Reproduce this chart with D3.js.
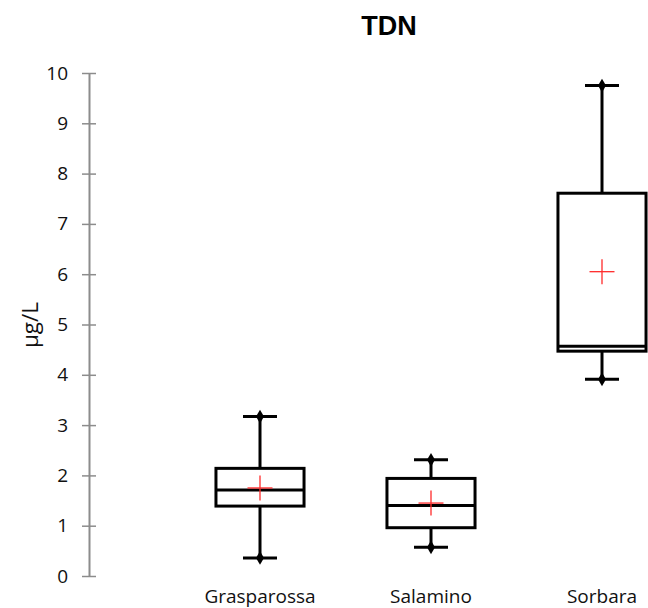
<!DOCTYPE html>
<html>
<head>
<meta charset="utf-8">
<script src="https://cdn.jsdelivr.net/npm/d3@7"></script>
<style>
  html, body { margin: 0; padding: 0; background: #fff; }
  svg { display: block; }
</style>
</head>
<body>
<svg id="chart" width="648" height="608"></svg>
<script>
const categories = ["Grasparossa", "Salamino", "Sorbara"];
const whiskerLow  = [0.36, 0.57, 3.91];
const q1          = [1.39, 0.96, 4.47];
const median      = [1.71, 1.40, 4.57];
const q3          = [2.14, 1.94, 7.61];
const whiskerHigh = [3.17, 2.31, 9.75];
const mean        = [1.75, 1.45, 6.05];
const yTicks      = [0, 1, 2, 3, 4, 5, 6, 7, 8, 9, 10];
const titleText   = "TDN";
const yTitle      = "μg/L";

const svg = d3.select("#chart");
const font = "'Open Sans', 'Noto Sans', sans-serif";

const y = d3.scaleLinear().domain([0, 10]).range([576, 73]);
const x = d3.scaleBand().domain(categories).range([174.5, 687.5]).paddingInner(0.485).paddingOuter(0.2425);

// Y axis
const yAxis = d3.axisLeft(y).tickValues(yTicks).tickSize(0).tickPadding(21).tickFormat(d3.format("d"));
const ya = svg.append("g").attr("transform", "translate(89,0)").call(yAxis);
ya.select(".domain").attr("stroke", "#8c8c8c").attr("stroke-width", 2);
ya.selectAll(".tick text").attr("font-family", font).attr("font-size", 19).attr("fill", "#111");
ya.selectAll(".tick").append("line").attr("x1", -7).attr("x2", 7).attr("stroke", "#8c8c8c").attr("stroke-width", 1.5);

// Title
svg.append("text").attr("x", 389).attr("y", 35).attr("text-anchor", "middle")
  .attr("font-family", "'Liberation Sans', Arial, sans-serif").attr("font-weight", "bold").attr("font-size", 27)
  .attr("fill", "#000").text(titleText);

// Y title
svg.append("text").attr("transform", "translate(38,325) rotate(-90)").attr("text-anchor", "middle")
  .attr("font-family", font).attr("font-size", 22.5).attr("fill", "#111").text(yTitle);

// X labels
svg.append("g").selectAll("text").data(categories).join("text")
  .attr("x", d => x(d) + x.bandwidth() / 2).attr("y", 603)
  .attr("text-anchor", "middle").attr("font-family", font).attr("font-size", 19).attr("fill", "#111")
  .text(d => d);

// Boxes
const g = svg.append("g");
categories.forEach((c, i) => {
  const cx = x(c) + x.bandwidth() / 2;
  const bw = x.bandwidth();
  const capW = 34;
  const stroke = "#000";
  g.append("line").attr("x1", cx).attr("x2", cx).attr("y1", y(q3[i])).attr("y2", y(whiskerHigh[i])).attr("stroke", stroke).attr("stroke-width", 3);
  g.append("line").attr("x1", cx).attr("x2", cx).attr("y1", y(q1[i])).attr("y2", y(whiskerLow[i])).attr("stroke", stroke).attr("stroke-width", 3);
  [whiskerHigh[i], whiskerLow[i]].forEach(v => {
    g.append("line").attr("x1", cx - capW / 2).attr("x2", cx + capW / 2).attr("y1", y(v)).attr("y2", y(v)).attr("stroke", stroke).attr("stroke-width", 3);
    g.append("path").attr("d", d3.symbol(d3.symbolDiamond, 55)()).attr("transform", `translate(${cx},${y(v)})`).attr("fill", stroke);
  });
  g.append("rect").attr("x", cx - bw / 2).attr("y", y(q3[i])).attr("width", bw).attr("height", y(q1[i]) - y(q3[i]))
    .attr("fill", "#fff").attr("stroke", stroke).attr("stroke-width", 3);
  g.append("line").attr("x1", cx - bw / 2).attr("x2", cx + bw / 2).attr("y1", y(median[i])).attr("y2", y(median[i])).attr("stroke", stroke).attr("stroke-width", 3);
  const m = 12.5;
  g.append("line").attr("x1", cx - m).attr("x2", cx + m).attr("y1", y(mean[i])).attr("y2", y(mean[i])).attr("stroke", "#ff2a2a").attr("stroke-width", 1.3);
  g.append("line").attr("x1", cx).attr("x2", cx).attr("y1", y(mean[i]) - m).attr("y2", y(mean[i]) + m).attr("stroke", "#ff2a2a").attr("stroke-width", 1.3);
});
</script>
</body>
</html>
